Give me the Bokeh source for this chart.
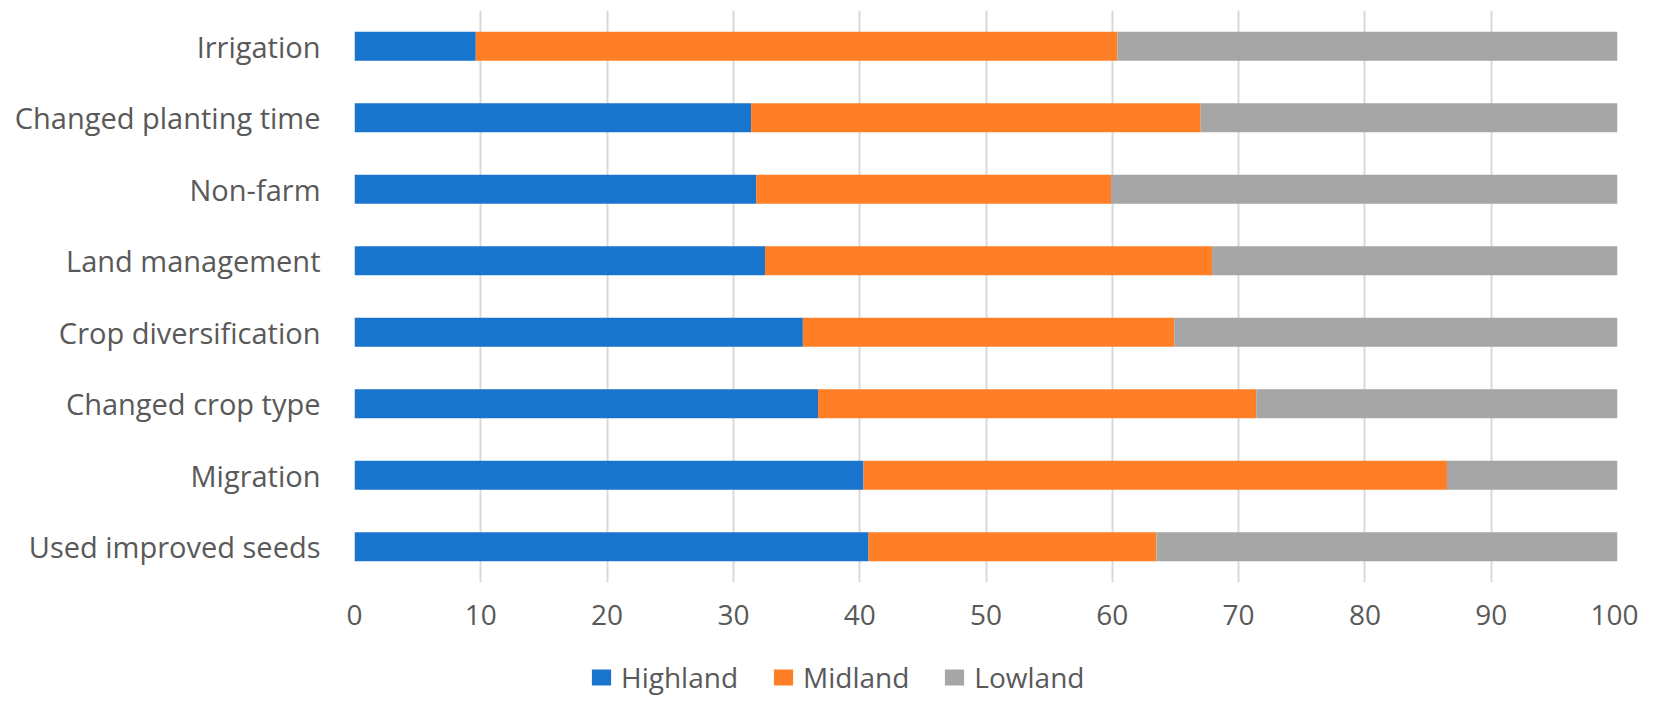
from bokeh.plotting import figure
from bokeh.layouts import column
from bokeh.models import Range1d, FactorRange, FixedTicker, Legend, LegendItem, ColumnDataSource
from bokeh.embed import file_html
from bokeh.resources import INLINE

# Categories listed top to bottom as in the chart
categories = ["Irrigation", "Changed planting time", "Non-farm", "Land management",
              "Crop diversification", "Changed crop type", "Migration", "Used improved seeds"]
highland = [9.6, 31.4, 31.8, 32.5, 35.5, 36.7, 40.3, 40.7]
midland = [50.8, 35.6, 28.1, 35.4, 29.4, 34.7, 46.2, 22.8]
lowland = [round(100 - h - m, 1) for h, m in zip(highland, midland)]
series = ["Highland", "Midland", "Lowland"]
colors = ["#1874CD", "#FF7F27", "#A6A6A6"]
x_ticks = [0, 10, 20, 30, 40, 50, 60, 70, 80, 90, 100]

FONT = "Open Sans"
TEXT = "#595959"

source = ColumnDataSource(dict(cat=categories, Highland=highland, Midland=midland, Lowland=lowland))

p = figure(width=1638, height=644, output_backend="svg", toolbar_location=None,
           y_range=FactorRange(*list(reversed(categories)), range_padding=0),
           x_range=Range1d(0, 100),
           min_border_left=354, min_border_right=21, min_border_top=10, min_border_bottom=62)

p.hbar_stack(series, y="cat", height=0.405, color=colors, source=source, line_color=None)

p.xaxis.ticker = FixedTicker(ticks=x_ticks)
p.xgrid.ticker = FixedTicker(ticks=x_ticks)
p.xgrid.grid_line_color = "#D9D9D9"
p.xgrid.grid_line_width = 2
p.ygrid.grid_line_color = None
p.outline_line_color = None

for ax in (p.xaxis, p.yaxis):
    ax.axis_line_color = None
    ax.major_tick_line_color = None
    ax.minor_tick_line_color = None
    ax.major_tick_out = 0
    ax.major_tick_in = 0
    ax.minor_tick_out = 0
    ax.minor_tick_in = 0
    ax.major_label_text_font = FONT
    ax.major_label_text_color = TEXT

p.xaxis.major_label_text_font_size = "28px"
p.yaxis.major_label_text_font_size = "29px"
p.xaxis.major_label_standoff = 22
p.yaxis.major_label_standoff = 34

# Legend strip below the chart (its frame is aligned with the main chart's frame)
p2 = figure(width=1638, height=56, output_backend="svg", toolbar_location=None,
            x_range=Range1d(0, 100), y_range=FactorRange(*list(reversed(categories))),
            x_axis_location=None, y_axis_location=None, min_border=0)
p2.xgrid.grid_line_color = None
p2.ygrid.grid_line_color = None
p2.outline_line_color = None
leg_renderers = p2.hbar_stack(series, y="cat", height=0.405, color=colors, source=source, line_color=None)
for r in leg_renderers:
    r.visible = False

legend = Legend(items=[LegendItem(label=s, renderers=[r]) for s, r in zip(series, leg_renderers)],
                orientation="horizontal", location=(235, 4), click_policy="none",
                border_line_color=None, background_fill_alpha=0,
                glyph_width=24, glyph_height=20, label_standoff=8, spacing=33,
                label_text_font=FONT, label_text_font_size="28px", label_text_color=TEXT,
                padding=0, margin=0)
p2.add_layout(legend, "center")

open("out.html", "w").write(file_html(column(p, p2, spacing=0), INLINE))
